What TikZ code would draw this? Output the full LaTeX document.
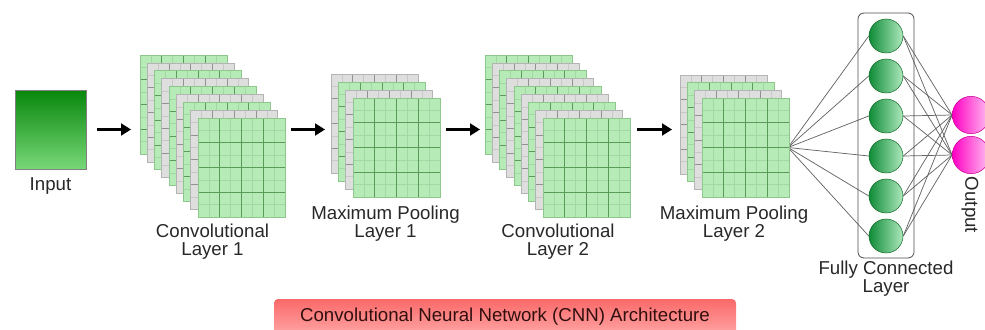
\documentclass[tikz,border=0pt]{standalone}
\usepackage{fontspec}
\setmainfont{Liberation Sans}
\usetikzlibrary{arrows.meta,fit,backgrounds}

% sheet colours
\definecolor{sgfill}{RGB}{182,234,182}
\definecolor{sgmajor}{RGB}{90,155,90}
\definecolor{sgminor}{RGB}{163,216,163}
\definecolor{sgedge}{RGB}{140,200,140}
\definecolor{skfill}{RGB}{222,222,222}
\definecolor{skmajor}{RGB}{145,145,145}
\definecolor{skminor}{RGB}{200,200,200}
\definecolor{skedge}{RGB}{180,180,180}
% other colours
\definecolor{intop}{RGB}{8,135,12}
\definecolor{inbot}{RGB}{120,215,120}
\definecolor{fcdark}{RGB}{15,140,55}
\definecolor{fclight}{RGB}{175,232,190}
\definecolor{fcedge}{RGB}{20,110,45}
\definecolor{outdark}{RGB}{255,0,195}
\definecolor{outlight}{RGB}{255,195,242}
\definecolor{outedge}{RGB}{205,0,150}
\definecolor{bantop}{RGB}{250,105,105}
\definecolor{banbot}{RGB}{255,165,165}
\definecolor{bantext}{RGB}{50,15,15}
\definecolor{labeltext}{RGB}{40,40,40}
\definecolor{linkgrey}{RGB}{100,100,100}

% one feature-map sheet, 87 x 99 units, top-left corner at the pic origin
\newcommand\sheetbody[4]{%
  \fill[#1] (0,0) rectangle (87,99);
  \foreach \i in {1,3,5,7} {
    \draw[#3,line width=0.3pt] (\i*10.875,0) -- ++(0,99);
    \draw[#3,line width=0.3pt] (0,\i*12.375) -- ++(87,0);
  }
  \foreach \i in {1,2,3} {
    \draw[#2,line width=0.45pt] (\i*21.75,0) -- ++(0,99);
    \draw[#2,line width=0.45pt] (0,\i*24.75) -- ++(87,0);
  }
  \draw[#4,line width=0.5pt] (0,0) rectangle (87,99);
}

\tikzset{
  pics/greensheet/.style={code={\sheetbody{sgfill}{sgmajor}{sgminor}{sgedge}}},
  pics/greysheet/.style={code={\sheetbody{skfill}{skmajor}{skminor}{skedge}}},
  lbl/.style={font=\fontsize{14}{13}\selectfont, text=labeltext, align=center, inner sep=0pt, anchor=north},
  flow/.style={line width=1.6pt, -{Triangle[length=7.5pt,width=9pt]}},
  link/.style={draw=linkgrey, line width=0.55pt},
  fcunit/.style={circle, minimum size=25.5pt, inner sep=0pt, draw=fcedge, line width=0.4pt,
    left color=fcdark, right color=fclight},
  outunit/.style={circle, minimum size=28pt, inner sep=0pt, draw=outedge, line width=0.4pt,
    left color=outdark, right color=outlight},
  bbox/.style={inner sep=0pt, outer sep=0pt},
}

\begin{document}
\begin{tikzpicture}[x=0.75pt, y=-0.75pt]
\useasboundingbox (0,0) rectangle (985,329);

% input image
\node[draw=gray, line width=0.5pt, top color=intop, bottom color=inbot,
      minimum width=53.25pt, minimum height=59.25pt, inner sep=0pt] (input) at (50.5,129.5) {};
\node[lbl] (inputlbl) at (50.5,177) {Input};

% convolutional layer 1: nine stacked sheets
\foreach \k in {0,...,8} {
  \ifodd\k
    \pic at (140+7.25*\k, 55+7.875*\k) {greysheet};
  \else
    \pic at (140+7.25*\k, 55+7.875*\k) {greensheet};
  \fi
}
\node[bbox, fit={(140,55) (285,217)}] (conv1) {};
\node[lbl] (conv1lbl) at (212.5,224) {Convolutional\\Layer 1};

% max pooling layer 1: four sheets
\foreach \k in {0,...,3} {
  \ifodd\k
    \pic at (331+7.33*\k, 74+8*\k) {greensheet};
  \else
    \pic at (331+7.33*\k, 74+8*\k) {greysheet};
  \fi
}
\node[bbox, fit={(331,74) (440,197)}] (pool1) {};
\node[lbl] (pool1lbl) at (385.5,206) {Maximum Pooling\\Layer 1};

% convolutional layer 2
\foreach \k in {0,...,8} {
  \ifodd\k
    \pic at (485+7.25*\k, 55+7.875*\k) {greysheet};
  \else
    \pic at (485+7.25*\k, 55+7.875*\k) {greensheet};
  \fi
}
\node[bbox, fit={(485,55) (631,217)}] (conv2) {};
\node[lbl] (conv2lbl) at (558,224) {Convolutional\\Layer 2};

% max pooling layer 2
\foreach \k in {0,...,3} {
  \ifodd\k
    \pic at (680+7.33*\k, 75+7.67*\k) {greensheet};
  \else
    \pic at (680+7.33*\k, 75+7.67*\k) {greysheet};
  \fi
}
\node[bbox, fit={(680,75) (788,197)}] (pool2) {};
\node[bbox, fit={(702,98) (788,197)}] (pool2front) {};
\node[lbl] (pool2lbl) at (734,206) {Maximum Pooling\\Layer 2};

% arrows between stages
\draw[flow, shorten <=8.25pt, shorten >=6.75pt] (input.east) -- (input.east -| conv1.west);
\draw[flow, shorten <=4.5pt, shorten >=4.5pt] (conv1.east |- input.east) -- (input.east -| pool1.west);
\draw[flow, shorten <=4.5pt, shorten >=3.75pt] (pool1.east |- input.east) -- (input.east -| conv2.west);
\draw[flow, shorten <=4.5pt, shorten >=6pt] (conv2.east |- input.east) -- (input.east -| pool2.west);

% fully connected layer
\node[draw=black!70, line width=0.6pt, rounded corners=4.5pt, inner sep=0pt,
      fit={(858,13) (914,258)}] (fcbox) {};
\foreach \i/\y in {1/36,2/76,3/116,4/156,5/196,6/236}
  \node[fcunit] (f\i) at (886,\y) {};
\node[lbl] (fclbl) at (886,261) {Fully Connected\\Layer};

% output units
\node[outunit] (o1) at (971,115) {};
\node[outunit] (o2) at (971,155) {};
\node[font=\fontsize{14}{13}\selectfont, text=labeltext, inner sep=0pt, rotate=-90] (outlbl) at (970,205) {Output};

% connections
\begin{pgfonlayer}{background}
  \foreach \i in {1,...,6} {
    \draw[link] (pool2front.east) -- (f\i.west);
    \draw[link] (f\i.east) -- (o1.west);
    \draw[link] (f\i.east) -- (o2.west);
  }
\end{pgfonlayer}

% caption banner
\node[top color=bantop, bottom color=banbot, rounded corners=3pt,
      minimum width=346.5pt, minimum height=27pt, inner sep=0pt,
      font=\fontsize{14}{13}\selectfont, text=bantext] (title) at (505,317)
  {Convolutional Neural Network (CNN) Architecture};
\end{tikzpicture}
\end{document}
